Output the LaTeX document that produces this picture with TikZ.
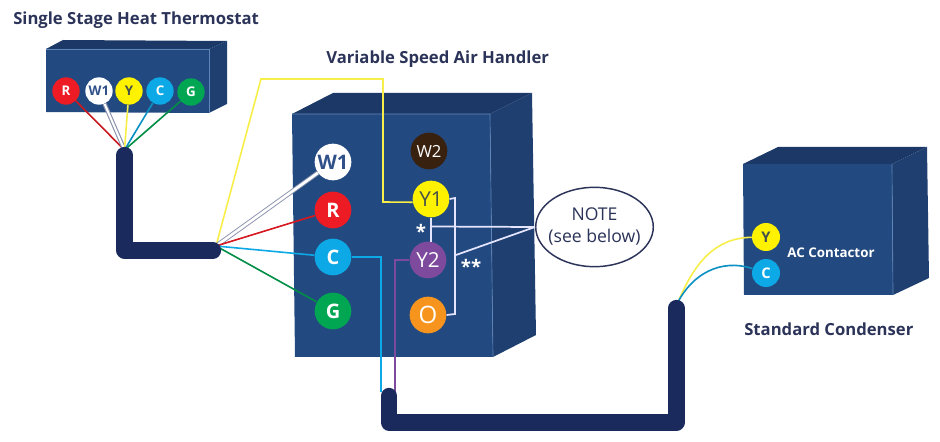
\documentclass[tikz,border=0pt]{standalone}
\usepackage{fontspec}
\usetikzlibrary{shapes.geometric}
\setmainfont{Open Sans}
\definecolor{faceF}{HTML}{234A80}
\definecolor{faceS}{HTML}{1F3F70}
\definecolor{faceT}{HTML}{1B3866}
\definecolor{edgeL}{HTML}{5F86B8}
\definecolor{cableC}{HTML}{1B2A5C}
\definecolor{titleC}{HTML}{2B3358}
\definecolor{wR}{HTML}{ED1C24}
\definecolor{wY}{HTML}{FFF200}
\definecolor{wL}{HTML}{F8EE4A}
\definecolor{wC}{HTML}{0DA9E6}
\definecolor{wG}{HTML}{00A651}
\definecolor{wW}{HTML}{8A93AD}
\definecolor{wB}{HTML}{39210F}
\definecolor{wP}{HTML}{7D4A9E}
\definecolor{wO}{HTML}{F7941D}
\definecolor{txtD}{HTML}{44504A}
\definecolor{txtW}{HTML}{2F5088}
\tikzset{
  frontface/.style={fill=faceF,draw=none},
  sideface/.style={fill=faceS,draw=none},
  topface/.style={fill=faceT,draw=none},
  edgeline/.style={draw=edgeL,line width=0.5pt},
  smallpin/.style={circle,inner sep=0pt,minimum size=20.5pt,font=\fontsize{10}{12}\selectfont\bfseries,text=white},
  bigpin/.style={circle,inner sep=0pt,minimum size=27.5pt,font=\fontsize{15}{18}\selectfont\bfseries,text=white},
  contpin/.style={circle,inner sep=0pt,minimum size=21pt,font=\fontsize{11}{13}\selectfont\bfseries,text=white},
  wire/.style={line width=1.2pt},
  jumper/.style={draw=white!90!blue,line width=1.3pt},
  cable/.style={draw=cableC,line width=12.2pt,line cap=round,line join=round},
  titletext/.style={font=\fontsize{12.5}{15}\selectfont\bfseries,text=titleC,inner sep=0pt},
  plaintext/.style={inner sep=0pt,text=white}
}
\begin{document}
\begin{tikzpicture}[x=0.75pt,y=-0.75pt]
\useasboundingbox (0,0) rectangle (940,442);
% thermostat box
\path[topface] (46,49) -- (63,40) -- (227,41) -- (209,49) -- cycle;
\path[sideface] (209,49) -- (227,41) -- (227,104) -- (209,113) -- cycle;
\path[frontface] (46,49) -- (209,49) -- (209,113) -- (46,112) -- cycle;
\draw[edgeline] (46,49) -- (209,49) -- (209,113);
% air handler box
\path[topface] (292,114) -- (333,93) -- (532,93) -- (490,114) -- cycle;
\path[sideface] (490,114) -- (532,93) -- (536,335) -- (493,357) -- cycle;
\path[frontface] (292,114) -- (490,114) -- (493,357) -- (295,357) -- cycle;
\draw[edgeline] (292,114) -- (490,114) -- (493,357);
% condenser box
\path[topface] (743,164) -- (778,147) -- (927,147) -- (892,164) -- cycle;
\path[sideface] (892,164) -- (927,147) -- (929,278) -- (893,295) -- cycle;
\path[frontface] (743,164) -- (892,164) -- (893,295) -- (744,295) -- cycle;
\draw[edgeline] (892,164) -- (893,295);
% titles
\node[titletext,anchor=west] (t1) at (13,20) {Single Stage Heat Thermostat};
\node[titletext,anchor=west] (t2) at (326,59) {Variable Speed Air Handler};
\node[titletext,anchor=west] (t3) at (744,329.5) {Standard Condenser};
% thermostat pins
\node[smallpin,fill=wR] (tR) at (66,91) {R};
\node[smallpin,fill=white,text=txtW] (tW) at (99,91) {W1};
\node[smallpin,fill=wY,text=txtD] (tY) at (129,91) {Y};
\node[smallpin,fill=wC] (tC) at (160,91) {C};
\node[smallpin,fill=wG] (tG) at (191,92) {G};
% handler pins
\node[bigpin,fill=white,text=txtW] (hW) at (333,162) {W1};
\node[bigpin,fill=wR] (hR) at (333,210) {R};
\node[bigpin,fill=wC] (hC) at (333,257) {C};
\node[bigpin,fill=wG] (hG) at (333,311) {G};
\node[bigpin,fill=wB,font=\fontsize{12.5}{15}\selectfont] (hW2) at (429,151) {W2};
\node[bigpin,fill=wY,text=txtD,font=\fontsize{15.5}{18}\selectfont] (hY1) at (431,199) {Y1};
\node[bigpin,fill=wP,font=\fontsize{15.5}{18}\selectfont] (hY2) at (428,260) {Y2};
\node[bigpin,fill=wO,font=\fontsize{18}{20}\selectfont] (hO) at (428,315) {O};
% condenser pins
\node[contpin,fill=wY,text=txtD] (cY) at (766,237) {Y};
\node[contpin,fill=wC] (cC) at (766,273) {C};
\node[plaintext,font=\fontsize{10}{12}\selectfont\bfseries] (ac) at (831,253) {AC Contactor};
% note
\node[ellipse,draw=titleC,line width=1.1pt,fill=white,minimum width=87pt,minimum height=59.5pt,inner xsep=-3.4pt,inner ysep=0pt,align=center,text=titleC,font=\fontsize{13.2}{16.5}\selectfont] (note) at (594.5,227) {NOTE\\(see below)};
\node[plaintext,font=\fontsize{14}{14}\selectfont\bfseries] (s1) at (421,231) {*};
\node[plaintext,font=\fontsize{14}{14}\selectfont\bfseries] (s2) at (471,266) {**};
% junction points
\coordinate (hubT) at (124.5,150);
\coordinate (hubB) at (216,246);
\coordinate (ybA) at (261,79);
\coordinate (ybB) at (383,79);
\coordinate (ybC) at (383,202);
\coordinate (cEnd) at (381,392);
\coordinate (pEnd) at (395,392);
\coordinate (hubC) at (678,302);
\coordinate (jA) at (431,242.5);
\coordinate (jB) at (455,198);
\coordinate (jC) at (455,314);
\coordinate (nA) at (431,226.5);
\coordinate (nB) at (456,255);
% thermostat wires
\draw[wire,draw=wR!85!black] (tR) -- (hubT);
\draw[line width=3.2pt,draw=wW] (tW) -- (hubT);
\draw[line width=1.5pt,draw=white] (tW) -- (hubT);
\draw[wire,draw=wL] (tY) -- (hubT);
\draw[wire,draw=wC!85!black] (tC) -- (hubT);
\draw[wire,draw=wG!85!black] (tG) -- (hubT);
% handler wires
\draw[wire,draw=wL] (hubB) -- (ybA) -- (ybB) -- (ybC) -- (hY1.190);
\draw[line width=3.4pt,draw=wW] (hubB) -- (hW);
\draw[line width=2pt,draw=white] (hubB) -- (hW);
\draw[wire,draw=wR!90!black] (hubB) -- (hR);
\draw[wire,draw=wC] (hubB) -- (hC);
\draw[wire,draw=wG!85!black] (hubB) -- (hG);
\draw[wire,draw=wC] (hC) -| (cEnd);
\draw[wire,draw=wP] (hY2) -| (pEnd);
% jumpers
\draw[jumper] (hY1.south) -- (jA);
\draw[jumper] (hY1.east) -- (jB) -- (jC) -- (hO.east);
\draw[jumper] (nA) -- (note.west);
\draw[jumper] (nB) -- (note.west);
% condenser wires
\draw[wire,draw=wL] (hubC) .. controls (695,262) and (715,238) .. (cY);
\draw[wire,draw=wC!85!black] (hubC) .. controls (692,275) and (720,258) .. (cC);
% cables
\draw[cable] (124.5,155) -- (124.5,250.5) -- (213,250.5);
\draw[cable] (389,396) -- (389,422.5) -- (676.5,422.5) -- (676.5,308);
\end{tikzpicture}
\end{document}
